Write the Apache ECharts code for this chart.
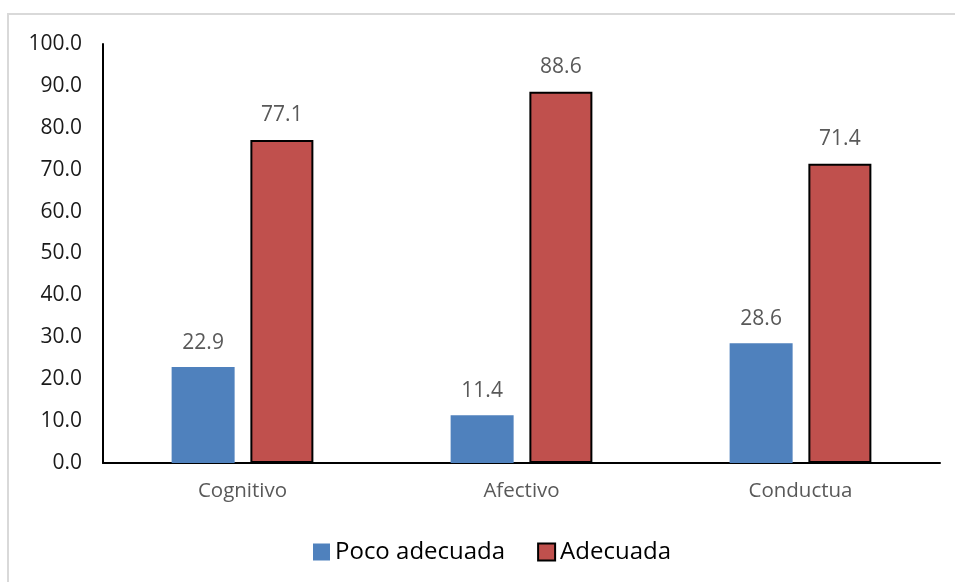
<!DOCTYPE html>
<html><head><meta charset="utf-8">
<script src="https://cdn.jsdelivr.net/npm/echarts@6/dist/echarts.min.js"></script>
<style>html,body{margin:0;padding:0;background:#fff}#c{width:955px;height:582px}</style>
</head><body><div id="c"></div>
<script>
const categories = ['Cognitivo', 'Afectivo', 'Conductua'];
const pocoAdecuada = [22.9, 11.4, 28.6];
const adecuada = [77.1, 88.6, 71.4];
const seriesNames = ['Poco adecuada', 'Adecuada'];

const FONT = 'Open Sans';
const chart = echarts.init(document.getElementById('c'));
chart.setOption({
  animation: false,
  backgroundColor: '#fff',
  textStyle: { fontFamily: FONT },
  graphic: [{
    type: 'rect', shape: { x: 8, y: 14, width: 980, height: 600 },
    style: { fill: 'none', stroke: '#d9d9d9', lineWidth: 2 }, silent: true
  }],
  grid: { left: 103, right: 15, top: 44, bottom: 119 },
  legend: {
    data: [
      { name: seriesNames[0], itemStyle: { borderWidth: 0 } },
      { name: seriesNames[1], itemStyle: { borderColor: '#000', borderWidth: 2 } }
    ],
    left: 308, top: 535, itemWidth: 17, itemHeight: 17, itemGap: 32,
    icon: 'rect',
    textStyle: { fontSize: 24, color: '#000', fontFamily: FONT, padding: [0, 0, 0, 0] }
  },
  xAxis: {
    type: 'category', data: categories,
    axisLine: { lineStyle: { color: '#000', width: 2 } },
    axisTick: { show: false },
    axisLabel: { fontSize: 20.5, color: '#595959', margin: 18, fontFamily: FONT }
  },
  yAxis: {
    type: 'value', min: 0, max: 100, interval: 10,
    axisLine: { show: true, lineStyle: { color: '#000', width: 2 } },
    axisTick: { show: false },
    splitLine: { show: false },
    axisLabel: { fontSize: 21, color: '#1a1a1a', margin: 21, fontFamily: FONT,
      formatter: v => v.toFixed(1) }
  },
  series: [
    {
      name: seriesNames[0], type: 'bar', data: pocoAdecuada,
      barWidth: 63, barGap: '25%',
      itemStyle: { color: '#4F81BD' },
      label: { show: true, position: 'top', distance: 14, fontSize: 21, color: '#595959',
        fontFamily: FONT, formatter: p => p.value.toFixed(1) }
    },
    {
      name: seriesNames[1], type: 'bar', data: adecuada,
      barWidth: 63,
      itemStyle: { color: '#C0504D', borderColor: '#000', borderWidth: 2 },
      label: { show: true, position: 'top', distance: 14, fontSize: 21, color: '#595959',
        fontFamily: FONT, formatter: p => p.value.toFixed(1) }
    }
  ]
});
</script></body></html>
